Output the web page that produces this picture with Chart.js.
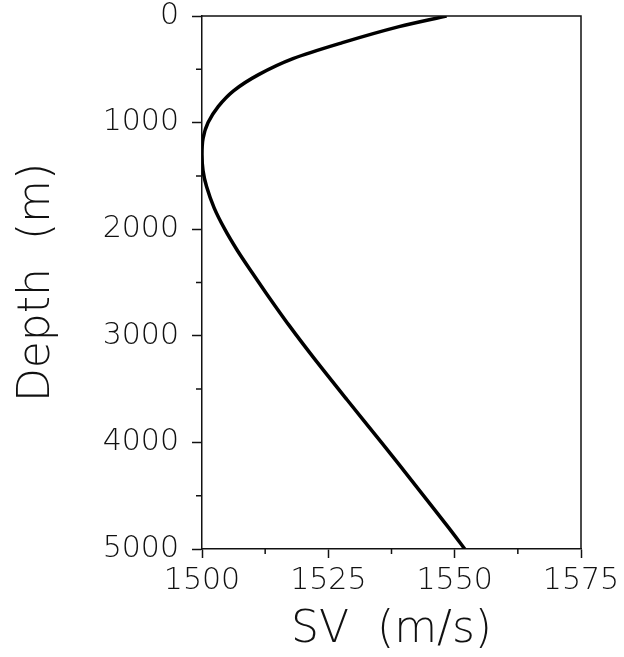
<!DOCTYPE html>
<html>
<head>
<meta charset="utf-8">
<script src="https://cdn.jsdelivr.net/npm/chart.js@4.4.1/dist/chart.umd.min.js"></script>
<style>
  html, body { margin: 0; padding: 0; background: #fff; }
  canvas { display: block; }
</style>
</head>
<body>
<canvas id="sv" width="624" height="657"></canvas>
<script>
// sound speed profile, depth (m) vs SV (m/s)
const depths = [0, 100, 250, 400, 550, 700, 850, 1000, 1150, 1300, 1450, 1600, 1800,
    2000, 2200, 2400, 2600, 2900, 3200, 3600, 4000, 4400, 4800, 5000];
const soundSpeed = [1548.4, 1539.0, 1527.8, 1518.0, 1511.2, 1506.3, 1503.2, 1501.2, 1500.2, 1500.0, 1500.2, 1500.9, 1502.4,
    1504.5, 1507.0, 1509.8, 1512.7, 1517.2, 1522.0, 1528.7, 1535.5, 1542.2, 1548.8, 1552.0];

const xMajorTicks = [1500, 1525, 1550, 1575];
const xMinorTicks = [1512.5, 1537.5, 1562.5];
const yMajorTicks = [0, 1000, 2000, 3000, 4000, 5000];
const yMinorTicks = [500, 1500, 2500, 3500, 4500];

const ink = "#111";
const tickFont = { family: "'DejaVu Sans', sans-serif", size: 30, weight: 200, lineHeight: 1 };
const titleFont = { family: "'DejaVu Sans', sans-serif", size: 44, weight: 200, lineHeight: 1 };

// closes the box on top/right and adds the short minor ticks
const frame = {
    id: "frame",
    afterDraw(chart) {
        const { ctx, chartArea: a, scales: { x, y } } = chart;
        ctx.save();
        ctx.strokeStyle = ink;
        ctx.lineWidth = 1.5;
        ctx.beginPath();
        ctx.moveTo(a.left, a.top);
        ctx.lineTo(a.right, a.top);
        ctx.lineTo(a.right, a.bottom);
        xMinorTicks.forEach(v => {
            const px = x.getPixelForValue(v);
            ctx.moveTo(px, a.bottom);
            ctx.lineTo(px, a.bottom + 5);
        });
        yMinorTicks.forEach(v => {
            const py = y.getPixelForValue(v);
            ctx.moveTo(a.left, py);
            ctx.lineTo(a.left - 6, py);
        });
        ctx.stroke();
        ctx.restore();
    }
};

const plain = v => String(v);

new Chart(document.getElementById("sv"), {
    type: "scatter",
    data: {
        datasets: [{
            data: depths.map((d, i) => ({ x: soundSpeed[i], y: d })),
            showLine: true,
            borderColor: "#000",
            borderWidth: 3.5,
            pointRadius: 0,
            tension: 0.3,
            fill: false
        }]
    },
    options: {
        responsive: false,
        animation: false,
        layout: { padding: { top: 16, right: 43, left: 0, bottom: 0 } },
        plugins: { legend: { display: false }, tooltip: { enabled: false } },
        scales: {
            x: {
                type: "linear",
                min: 1500,
                max: 1575,
                afterBuildTicks: s => { s.ticks = xMajorTicks.map(v => ({ value: v })); },
                afterFit: s => { s.height = 108; s.paddingLeft = 0; s.paddingRight = 0; },
                ticks: { color: ink, font: tickFont, padding: 8, maxRotation: 0, callback: plain },
                grid: { drawOnChartArea: false, tickLength: 9, tickColor: ink, tickWidth: 1.5 },
                border: { color: ink, width: 1.5 },
                title: { display: true, text: "SV  (m/s)", color: ink, font: titleFont, padding: { top: 0, bottom: 4 } }
            },
            y: {
                type: "linear",
                reverse: true,
                min: 0,
                max: 5000,
                afterBuildTicks: s => { s.ticks = yMajorTicks.map(v => ({ value: v })); },
                afterFit: s => { s.width = 202; s.paddingTop = 0; s.paddingBottom = 0; },
                ticks: { color: ink, font: tickFont, padding: 13, callback: plain },
                grid: { drawOnChartArea: false, tickLength: 10, tickColor: ink, tickWidth: 1.5 },
                border: { color: ink, width: 1.5 },
                title: { display: true, text: "Depth  (m)", color: ink, font: titleFont, padding: { top: 16, bottom: 0 } }
            }
        }
    },
    plugins: [frame]
});
</script>
</body>
</html>
